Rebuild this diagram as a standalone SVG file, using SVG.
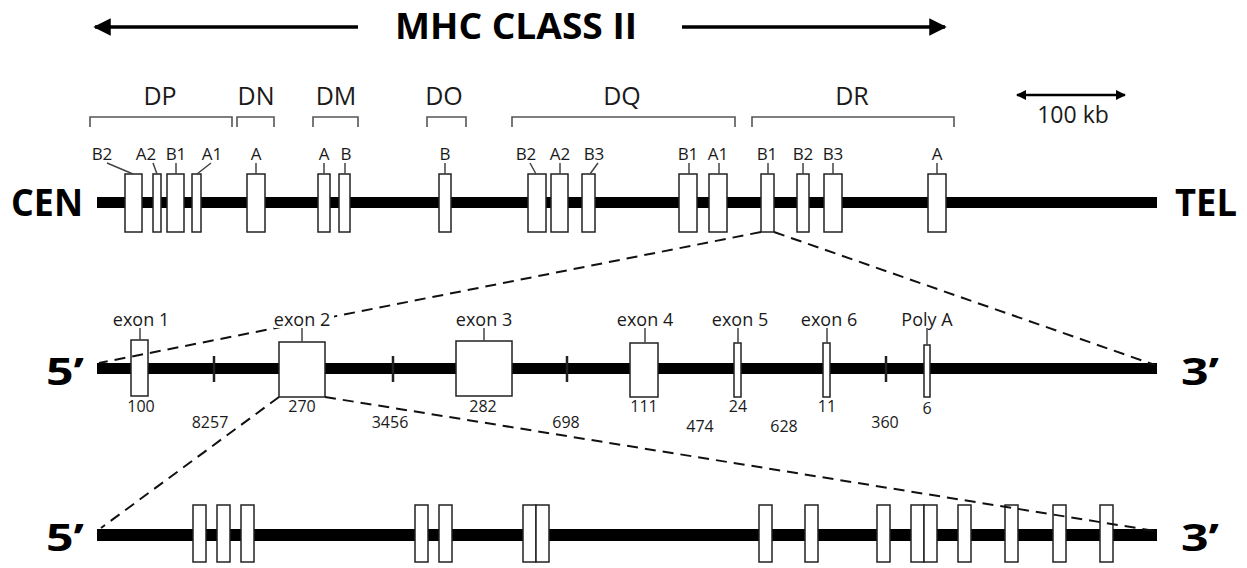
<svg xmlns="http://www.w3.org/2000/svg" width="1247" height="568" viewBox="0 0 1247 568">
<style>
text{font-family:"Open Sans","Noto Sans","DejaVu Sans",sans-serif;fill:#1a1a1a;text-anchor:middle}
.big{font-weight:bold;font-size:38px;fill:#000}
.grp{font-size:25px}
.gene{font-size:17px}
.exl{font-size:18px}
.num{font-size:16px}
.box{fill:#fff;stroke:#222;stroke-width:1.5}
.chr{fill:#000}
.br{fill:none;stroke:#555;stroke-width:1.6}
.ld{fill:none;stroke:#444;stroke-width:1.5}
.dash{fill:none;stroke:#111;stroke-width:2;stroke-dasharray:11 7}
.tick{stroke:#222;stroke-width:2.5}
</style>
<defs>
<marker id="ah" viewBox="0 0 10 10" refX="9" refY="5" markerWidth="5" markerHeight="5" markerUnits="strokeWidth" orient="auto-start-reverse"><path d="M0,0 L10,5 L0,10 Z" fill="#000"/></marker>
<marker id="ah2" viewBox="0 0 10 10" refX="9" refY="5" markerWidth="5" markerHeight="4" markerUnits="strokeWidth" orient="auto-start-reverse"><path d="M0,0 L10,5 L0,10 Z" fill="#000"/></marker>
</defs>

<g id="title">
<line x1="95" y1="27" x2="358" y2="27" stroke="#000" stroke-width="3.5" marker-start="url(#ah)"/>
<line x1="682" y1="27" x2="945" y2="27" stroke="#000" stroke-width="3.5" marker-end="url(#ah)"/>
<text x="516" y="39" class="big" style="font-size:35px" textLength="242" lengthAdjust="spacingAndGlyphs">MHC CLASS II</text>
</g>

<g id="scale">
<line x1="1017" y1="95" x2="1125" y2="95" stroke="#000" stroke-width="2.5" marker-start="url(#ah2)" marker-end="url(#ah2)"/>
<text x="1073" y="123" style="font-size:23px">100 kb</text>
</g>

<g id="groups">
<text x="160" y="105" class="grp">DP</text>
<path class="br" d="M90,127 V117 H232 V127"/>
<text x="256" y="105" class="grp">DN</text>
<path class="br" d="M237,127 V117 H274 V127"/>
<text x="336" y="105" class="grp">DM</text>
<path class="br" d="M313,127 V117 H358 V127"/>
<text x="444" y="105" class="grp">DO</text>
<path class="br" d="M427,127 V117 H466 V127"/>
<text x="622" y="105" class="grp">DQ</text>
<path class="br" d="M512,127 V117 H735 V127"/>
<text x="852" y="105" class="grp">DR</text>
<path class="br" d="M752,127 V117 H954 V127"/>
</g>

<g id="chromosome">
<text x="47" y="216" class="big" textLength="72" lengthAdjust="spacingAndGlyphs">CEN</text>
<rect class="chr" x="97" y="197" width="1060" height="11"/>
<text x="1206" y="216" class="big" textLength="62" lengthAdjust="spacingAndGlyphs">TEL</text>
</g>

<g id="gene-DPB2"><rect class="box" x="125" y="174" width="17" height="58"/><text x="102" y="160" class="gene">B2</text></g>
<g id="gene-DPA2"><rect class="box" x="153" y="174" width="8" height="58"/><text x="146" y="160" class="gene">A2</text></g>
<g id="gene-DPB1"><rect class="box" x="167" y="174" width="17" height="58"/><text x="176" y="160" class="gene">B1</text></g>
<g id="gene-DPA1"><rect class="box" x="192" y="174" width="9" height="58"/><text x="212" y="160" class="gene">A1</text></g>
<g id="gene-DNA"><rect class="box" x="247" y="174" width="18" height="58"/><text x="256" y="160" class="gene">A</text></g>
<g id="gene-DMA"><rect class="box" x="318" y="174" width="12" height="58"/><text x="324" y="160" class="gene">A</text></g>
<g id="gene-DMB"><rect class="box" x="339" y="174" width="11" height="58"/><text x="346" y="160" class="gene">B</text></g>
<g id="gene-DOB"><rect class="box" x="439" y="174" width="12" height="58"/><text x="445" y="160" class="gene">B</text></g>
<g id="gene-DQB2"><rect class="box" x="528" y="174" width="18" height="58"/><text x="526" y="160" class="gene">B2</text></g>
<g id="gene-DQA2"><rect class="box" x="551" y="174" width="17" height="58"/><text x="560" y="160" class="gene">A2</text></g>
<g id="gene-DQB3"><rect class="box" x="582" y="174" width="13" height="58"/><text x="594" y="160" class="gene">B3</text></g>
<g id="gene-DQB1"><rect class="box" x="679" y="174" width="18" height="58"/><text x="688" y="160" class="gene">B1</text></g>
<g id="gene-DQA1"><rect class="box" x="709" y="174" width="18" height="58"/><text x="718" y="160" class="gene">A1</text></g>
<g id="gene-DRB1"><rect class="box" x="761" y="174" width="13" height="58"/><text x="767" y="160" class="gene">B1</text></g>
<g id="gene-DRB2"><rect class="box" x="797" y="174" width="12" height="58"/><text x="803" y="160" class="gene">B2</text></g>
<g id="gene-DRB3"><rect class="box" x="824" y="174" width="18" height="58"/><text x="833" y="160" class="gene">B3</text></g>
<g id="gene-DRA"><rect class="box" x="928" y="174" width="18" height="58"/><text x="937" y="160" class="gene">A</text></g>

<g id="gene-DRB1-structure">
<text x="65" y="385" class="big" textLength="38" lengthAdjust="spacingAndGlyphs">5’</text>
<rect class="chr" x="97" y="363" width="1060" height="11"/>
<text x="1200" y="385" class="big" textLength="38" lengthAdjust="spacingAndGlyphs">3’</text>
<line class="tick" x1="214" y1="356" x2="214" y2="382"/>
<line class="tick" x1="393" y1="356" x2="393" y2="382"/>
<line class="tick" x1="567" y1="356" x2="567" y2="382"/>
<line class="tick" x1="886" y1="356" x2="886" y2="382"/>
<text x="210" y="428" class="num">8257</text>
<text x="390" y="428" class="num">3456</text>
<text x="566" y="428" class="num">698</text>
<text x="700" y="432" class="num">474</text>
<text x="784" y="432" class="num">628</text>
<text x="885" y="428" class="num">360</text>
</g>

<g id="exon1"><rect class="box" x="131" y="340" width="17" height="56"/><text x="141" y="412" class="num">100</text></g>
<g id="exon2"><rect class="box" x="279" y="342" width="46" height="55"/><text x="302" y="412" class="num">270</text></g>
<g id="exon3"><rect class="box" x="456" y="341" width="56" height="55"/><text x="483" y="412" class="num">282</text></g>
<g id="exon4"><rect class="box" x="630" y="343" width="28" height="54"/><text x="644" y="412" class="num">111</text></g>
<g id="exon5"><rect class="box" x="734" y="343" width="7" height="54"/><text x="738" y="412" class="num">24</text></g>
<g id="exon6"><rect class="box" x="823" y="343" width="7" height="54"/><text x="827" y="412" class="num">11</text></g>
<g id="polyA"><rect class="box" x="924" y="345" width="6" height="52"/><text x="927" y="414" class="num">6</text></g>

<g id="exon2-structure">
<text x="65" y="551" class="big" textLength="38" lengthAdjust="spacingAndGlyphs">5’</text>
<rect class="chr" x="97" y="529" width="1060" height="12"/>
<text x="1200" y="551" class="big" textLength="38" lengthAdjust="spacingAndGlyphs">3’</text>
<rect class="box" x="193" y="505" width="13" height="57"/>
<rect class="box" x="217" y="505" width="13" height="57"/>
<rect class="box" x="241" y="505" width="13" height="57"/>
<rect class="box" x="415" y="505" width="13" height="57"/>
<rect class="box" x="439" y="505" width="13" height="57"/>
<rect class="box" x="523" y="505" width="13" height="57"/>
<rect class="box" x="536" y="505" width="13" height="57"/>
<rect class="box" x="759" y="505" width="13" height="57"/>
<rect class="box" x="805" y="505" width="13" height="57"/>
<rect class="box" x="877" y="505" width="13" height="57"/>
<rect class="box" x="911" y="505" width="13" height="57"/>
<rect class="box" x="924" y="505" width="13" height="57"/>
<rect class="box" x="958" y="505" width="13" height="57"/>
<rect class="box" x="1005" y="505" width="13" height="57"/>
<rect class="box" x="1053" y="505" width="13" height="57"/>
<rect class="box" x="1100" y="505" width="13" height="57"/>
</g>

<g id="connectors">
<path class="ld" d="M107,163 L133,174 M153,163 L157,174 M176,163 V174 M211,163 L197,174 M256,163 V174 M324,163 V174 M345,163 V174 M445,163 V174 M530,163 L536,174 M560,163 V174 M598,163 L590,174 M689,163 V174 M719,163 V174 M768,163 V174 M803,163 V174 M833,163 V174 M937,163 V174"/>
<path class="ld" d="M140,328 V340 M302,328 V342 M484,328 V341 M645,328 V343 M738,328 V343 M827,328 V343 M927,328 V345"/>
<line class="dash" x1="761" y1="232" x2="99" y2="363"/>
<line class="dash" x1="774" y1="232" x2="1155" y2="365"/>
<line class="dash" x1="279" y1="397" x2="101" y2="528"/>
<line class="dash" x1="325" y1="397" x2="1155" y2="531"/>
</g>

<g id="exon-labels">
<text x="141" y="326" class="exl">exon 1</text>
<rect x="274" y="310" width="60" height="18" fill="#fff"/>
<text x="302" y="326" class="exl">exon 2</text>
<text x="484" y="326" class="exl">exon 3</text>
<text x="645" y="326" class="exl">exon 4</text>
<text x="740" y="326" class="exl">exon 5</text>
<text x="829" y="326" class="exl">exon 6</text>
<text x="927" y="326" class="exl">Poly A</text>
</g>
</svg>
